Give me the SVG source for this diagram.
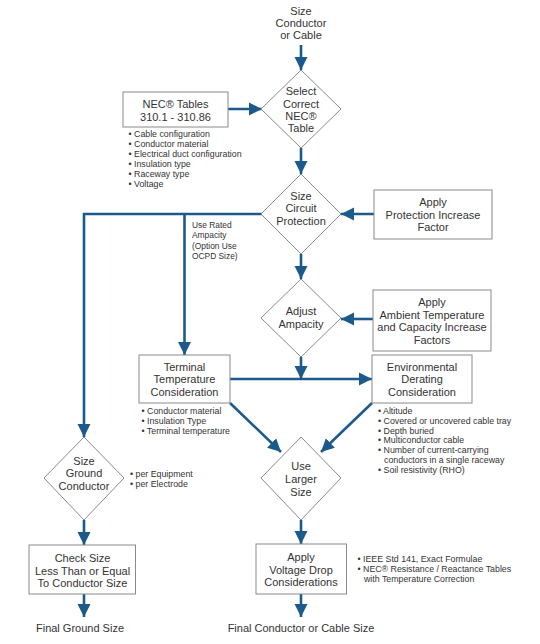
<svg xmlns="http://www.w3.org/2000/svg" width="540" height="644" viewBox="0 0 540 644">
<defs>
<marker id="ah" markerUnits="userSpaceOnUse" markerWidth="14" markerHeight="14" viewBox="0 0 14 14" refX="13" refY="7" orient="auto">
<path d="M0,0.5 L13,7 L0,13.5 Z" fill="#1d5a8c"/>
</marker>
</defs>
<style>
text{font-family:"Liberation Sans",Arial,sans-serif;fill:#333}
.m{font-size:11px;text-anchor:middle}
.b{font-size:8.8px}
.s{font-size:8.4px}
.box{fill:#fff;stroke:#8a8a8a;stroke-width:1}
.c{fill:none;stroke:#1d5a8c;stroke-width:2.6;marker-end:url(#ah)}
.l{fill:none;stroke:#1d5a8c;stroke-width:2.6}
</style>
<rect width="540" height="644" fill="#fff"/>

<g id="start">
<text class="m" x="301" y="15">Size</text>
<text class="m" x="301" y="27">Conductor</text>
<text class="m" x="301" y="39">or Cable</text>
</g>

<g id="connectors">
<line class="c" x1="301" y1="45" x2="301" y2="70"/>
<line class="c" x1="228" y1="109" x2="262" y2="109"/>
<line class="c" x1="301" y1="148" x2="301" y2="174"/>
<line class="c" x1="374" y1="214" x2="341" y2="214"/>
<line class="c" x1="301" y1="254" x2="301" y2="279"/>
<line class="c" x1="373" y1="319" x2="341" y2="319"/>
<polyline class="c" points="262,214 84,214 84,437"/>
<line class="c" x1="184.5" y1="214" x2="184.5" y2="355"/>
<line class="c" x1="301" y1="357" x2="301" y2="379"/>
<line class="c" x1="230" y1="379" x2="372" y2="379"/>
<line class="c" x1="230" y1="403" x2="281" y2="452"/>
<line class="c" x1="372" y1="403" x2="321" y2="452"/>
<line class="c" x1="84" y1="520" x2="84" y2="545"/>
<line class="c" x1="84" y1="594" x2="84" y2="617"/>
<line class="c" x1="301" y1="520" x2="301" y2="544"/>
<line class="c" x1="301" y1="594" x2="301" y2="617"/>
</g>

<g id="select-table">
<polygon class="box" points="301,70 341,109 301,148 261,109"/>
<text class="m" x="301" y="95">Select</text>
<text class="m" x="301" y="107.5">Correct</text>
<text class="m" x="301" y="120">NEC®</text>
<text class="m" x="301" y="132">Table</text>
</g>

<g id="nec-tables">
<rect class="box" x="123" y="92" width="105" height="35"/>
<text class="m" x="175.5" y="108">NEC® Tables</text>
<text class="m" x="175.5" y="120.5">310.1 - 310.86</text>
<text class="b" x="128.5" y="137.2">• Cable configuration</text>
<text class="b" x="128.5" y="147.1">• Conductor material</text>
<text class="b" x="128.5" y="157">• Electrical duct configuration</text>
<text class="b" x="128.5" y="166.9">• Insulation type</text>
<text class="b" x="128.5" y="176.7">• Raceway type</text>
<text class="b" x="128.5" y="186.6">• Voltage</text>
</g>

<g id="size-circuit-protection">
<polygon class="box" points="301,174 341,214 301,254 261,214"/>
<text class="m" x="301" y="199.5">Size</text>
<text class="m" x="301" y="212">Circuit</text>
<text class="m" x="301" y="224.5">Protection</text>
</g>

<g id="rated-label">
<text class="s" x="192" y="228">Use Rated</text>
<text class="s" x="192" y="238">Ampacity</text>
<text class="s" x="192" y="248.5">(Option Use</text>
<text class="s" x="192" y="258.5">OCPD Size)</text>
</g>

<g id="apply-protection">
<rect class="box" x="374" y="190" width="118" height="49"/>
<text class="m" x="433" y="206">Apply</text>
<text class="m" x="433" y="218.5">Protection Increase</text>
<text class="m" x="433" y="231">Factor</text>
</g>

<g id="adjust-ampacity">
<polygon class="box" points="301,279 341,318 301,357 261,318"/>
<text class="m" x="301" y="315">Adjust</text>
<text class="m" x="301" y="327.5">Ampacity</text>
</g>

<g id="apply-ambient">
<rect class="box" x="373" y="290" width="118" height="61"/>
<text class="m" x="432" y="306">Apply</text>
<text class="m" x="432" y="318.5">Ambient Temperature</text>
<text class="m" x="432" y="331">and Capacity Increase</text>
<text class="m" x="432" y="343.5">Factors</text>
</g>

<g id="terminal-temperature">
<rect class="box" x="139" y="355" width="91" height="48"/>
<text class="m" x="184.5" y="370.5">Terminal</text>
<text class="m" x="184.5" y="383">Temperature</text>
<text class="m" x="184.5" y="395.5">Consideration</text>
<text class="b" x="141.5" y="414">• Conductor material</text>
<text class="b" x="141.5" y="424">• Insulation Type</text>
<text class="b" x="141.5" y="433.5">• Terminal temperature</text>
</g>

<g id="environmental-derating">
<rect class="box" x="372" y="355" width="100" height="48"/>
<text class="m" x="422" y="370.5">Environmental</text>
<text class="m" x="422" y="383">Derating</text>
<text class="m" x="422" y="395.5">Consideration</text>
<text class="b" x="378" y="414">• Altitude</text>
<text class="b" x="378" y="424">• Covered or uncovered cable tray</text>
<text class="b" x="378" y="433.5">• Depth buried</text>
<text class="b" x="378" y="443">• Multiconductor cable</text>
<text class="b" x="378" y="453">• Number of current-carrying</text>
<text class="b" x="384" y="463">conductors in a single raceway</text>
<text class="b" x="378" y="472.5">• Soil resistivity (RHO)</text>
</g>

<g id="size-ground-conductor">
<polygon class="box" points="84,437 124,478 84,520 44,478"/>
<text class="m" x="84" y="464.5">Size</text>
<text class="m" x="84" y="477">Ground</text>
<text class="m" x="84" y="489.5">Conductor</text>
<text class="b" x="130" y="476.5">• per Equipment</text>
<text class="b" x="130" y="486.5">• per Electrode</text>
</g>

<g id="use-larger-size">
<polygon class="box" points="301,437 341,478 301,520 261,478"/>
<text class="m" x="301" y="470">Use</text>
<text class="m" x="301" y="483">Larger</text>
<text class="m" x="301" y="495.5">Size</text>
</g>

<g id="check-size">
<rect class="box" x="29" y="545" width="106.5" height="49"/>
<text class="m" x="82.5" y="562">Check Size</text>
<text class="m" x="82.5" y="574.5">Less Than or Equal</text>
<text class="m" x="82.5" y="586.5">To Conductor Size</text>
</g>

<g id="voltage-drop">
<rect class="box" x="256" y="544" width="90.5" height="50"/>
<text class="m" x="301" y="561">Apply</text>
<text class="m" x="301" y="574">Voltage Drop</text>
<text class="m" x="301" y="586">Considerations</text>
<text class="b" x="357.5" y="561.5">• IEEE Std 141, Exact Formulae</text>
<text class="b" x="357.5" y="571.8">• NEC® Resistance / Reactance Tables</text>
<text class="b" x="364" y="582">with Temperature Correction</text>
</g>

<g id="final-ground">
<text class="m" x="80" y="631.5">Final Ground Size</text>
</g>

<g id="final-conductor">
<text class="m" x="301" y="631.5">Final Conductor or Cable Size</text>
</g>
</svg>
